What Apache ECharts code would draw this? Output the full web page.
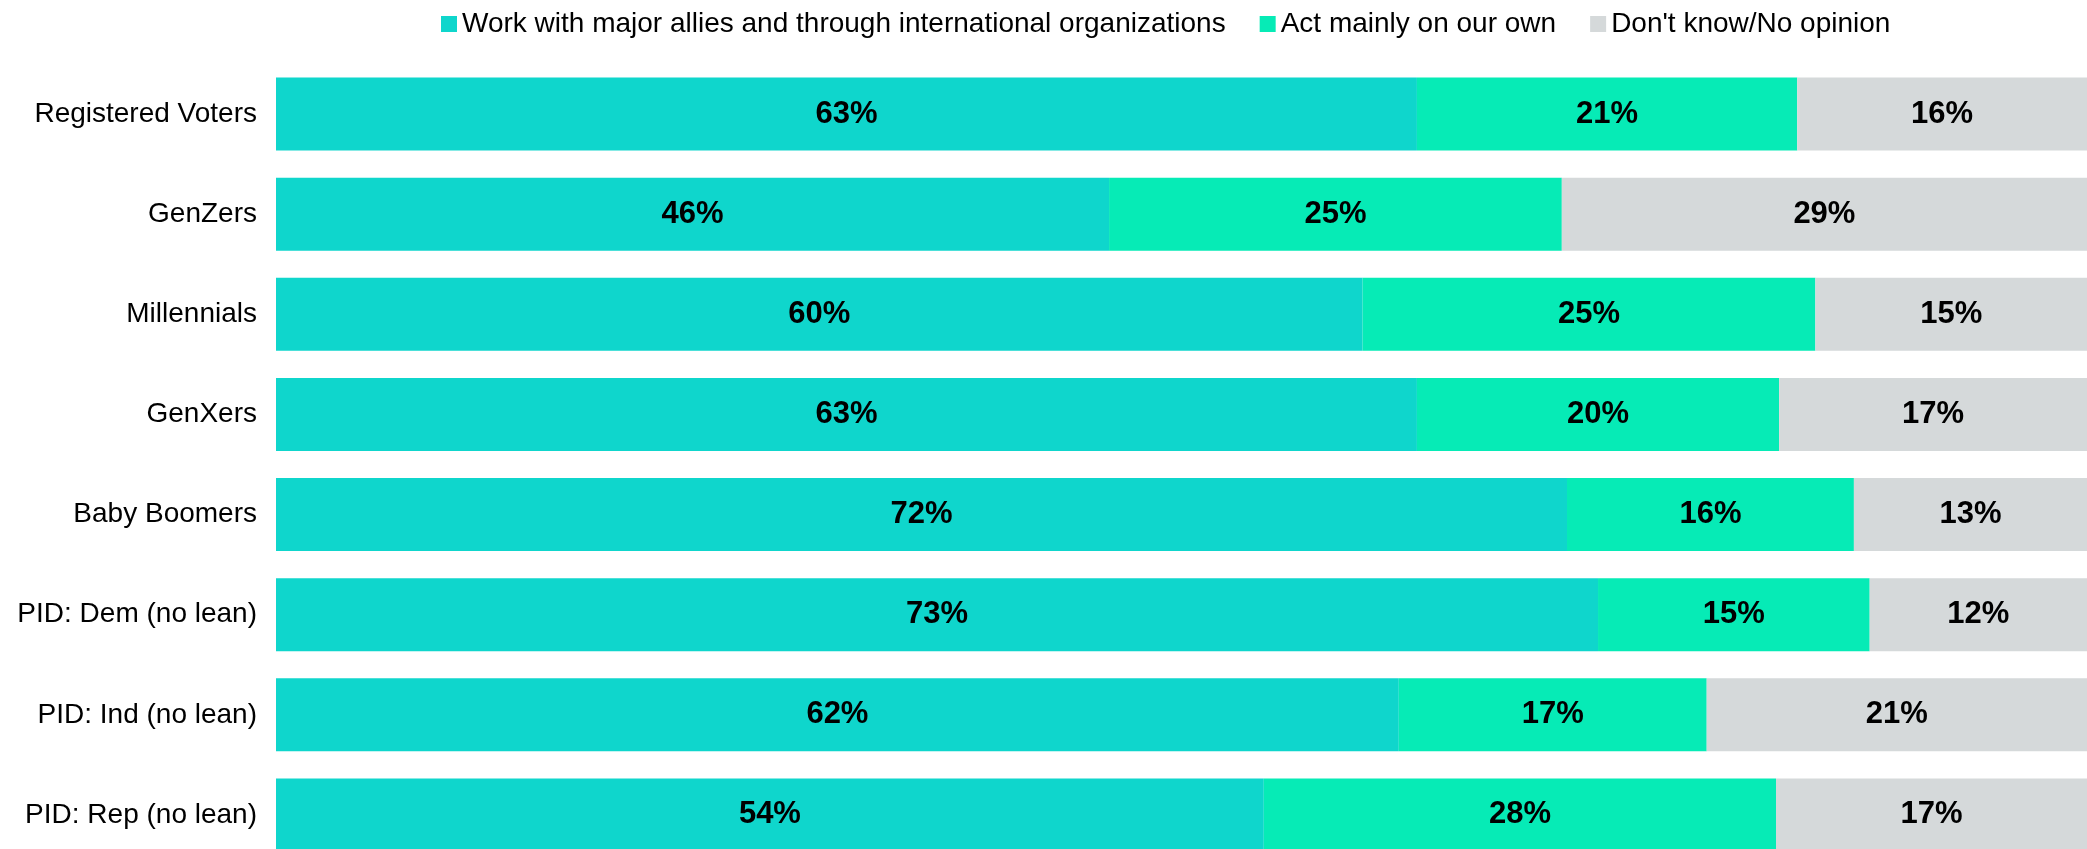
<!DOCTYPE html>
<html>
<head>
<meta charset="utf-8">
<script src="https://cdn.jsdelivr.net/npm/echarts@6/dist/echarts.min.js"></script>
<style>
  html, body { margin: 0; padding: 0; background: #fff; overflow: hidden; }
  #wrap { width: 2087px; height: 849px; overflow: hidden; }
  /* chart runs a little past the bottom edge, like the source image */
  #chart { width: 2087px; height: 865px; }
</style>
</head>
<body>
<div id="wrap"><div id="chart"></div></div>
<script>
const categories = [
    'Registered Voters',
    'GenZers',
    'Millennials',
    'GenXers',
    'Baby Boomers',
    'PID: Dem (no lean)',
    'PID: Ind (no lean)',
    'PID: Rep (no lean)'
];

const seriesNames = [
    'Work with major allies and through international organizations',
    'Act mainly on our own',
    "Don't know/No opinion"
];

const workWithAllies = [63, 46, 60, 63, 72, 73, 62, 54];
const actOnOwn = [21, 25, 25, 20, 16, 15, 17, 28];
const dontKnow = [16, 29, 15, 17, 13, 12, 21, 17];

const colors = ['#0fd6cc', '#06ebb6', '#d5d9da'];

const raw = [workWithAllies, actOnOwn, dontKnow];

// 100% stacked: each row is scaled to its own total
const rowTotals = categories.map((c, i) => raw.reduce((s, arr) => s + arr[i], 0));

const fontFamily = '"Liberation Sans", Arial, sans-serif';

const chart = echarts.init(document.getElementById('chart'));

const option = {
    animation: false,
    textStyle: { fontFamily: fontFamily },
    legend: {
        top: 10,
        left: 441,
        padding: 0,
        icon: 'rect',
        itemWidth: 16,
        itemHeight: 16,
        itemGap: 34,
        textStyle: {
            fontSize: 28,
            color: '#000',
            fontFamily: fontFamily
        },
        data: seriesNames
    },
    grid: {
        left: 276,
        right: 0,
        top: 64,
        bottom: 0,
        containLabel: false
    },
    xAxis: {
        type: 'value',
        min: 0,
        max: 100,
        show: false
    },
    yAxis: {
        type: 'category',
        inverse: true,
        data: categories,
        axisLine: { show: false },
        axisTick: { show: false },
        splitLine: { show: false },
        axisLabel: {
            fontSize: 28,
            color: '#000',
            margin: 19,
            fontFamily: fontFamily
        }
    },
    series: raw.map((arr, k) => ({
        name: seriesNames[k],
        type: 'bar',
        stack: 'total',
        barCategoryGap: '27%',
        itemStyle: { color: colors[k] },
        label: {
            show: true,
            position: 'inside',
            fontSize: 31,
            fontWeight: 'bold',
            color: '#000',
            fontFamily: fontFamily,
            formatter: p => arr[p.dataIndex] + '%'
        },
        data: arr.map((v, i) => v / rowTotals[i] * 100)
    }))
};

chart.setOption(option);
</script>
</body>
</html>
